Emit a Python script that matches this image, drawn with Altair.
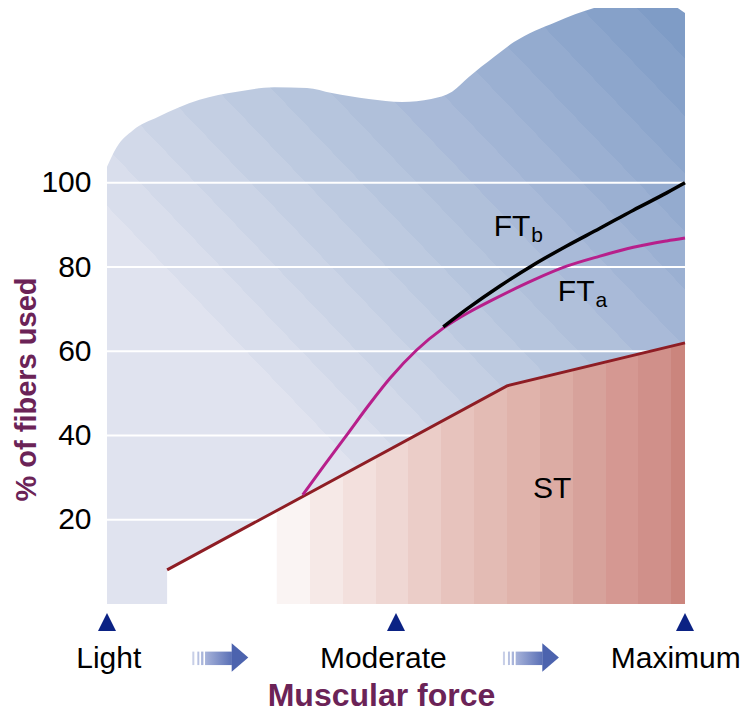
import altair as alt
import pandas as pd

# ---------------- data ----------------
# upper boundary of the shaded "available fibers" region
force_top = [0, 1.7, 4.5, 8.8, 16.0, 22.5, 28.9, 34.6, 38.9, 45.3, 51.1, 56.1,
             59.7, 62.6, 67.0, 70.4, 77.7, 84.8, 92.0, 97.1, 100]
top_pct = [103.8, 108.5, 112.5, 115.6, 119.7, 121.6, 122.7, 122.5, 121.3, 119.9,
           119.2, 119.9, 121.6, 125.1, 129.9, 133.4, 138.2, 141.7, 143.2, 142.5, 140.3]

# ST recruitment (slow-twitch)
st_force = [10.4, 29.4, 69.2, 100]
st_pct = [8.1, 22.2, 51.8, 62.0]

# FTa recruitment
fta_force = [33.86, 37.42, 41.47, 45.5, 48.96, 53.58, 58.18, 62.8, 66.26, 73.75,
             79.53, 85.29, 91.06, 96.83, 100]
fta_pct = [25.9, 32.6, 40.1, 47.6, 53.6, 60.3, 65.5, 69.4, 71.9, 76.9,
           80.2, 82.6, 84.7, 86.2, 86.9]

# FTb recruitment
ftb_force = [58.18, 62.23, 68.0, 73.75, 79.53, 85.29, 91.06, 96.83, 100]
ftb_pct = [65.8, 70.0, 75.5, 80.5, 85.0, 89.2, 93.5, 97.6, 100.0]

grid_pct = [20, 40, 60, 80, 100]

force_levels = ["Light", "Moderate", "Maximum"]
level_force = [0, 50, 100]
level_label_force = [0.3, 47.8, 98.4]

curve_names = ["FT", "FT", "ST"]
name_force = [66.9, 78.0, 73.7]
name_pct = [87.4, 72.0, 25.1]
curve_subs = ["b", "a"]
sub_force = [73.4, 84.5]
sub_pct = [86.0, 70.4]

# ---------------- styling ----------------
FONT = "Liberation Sans"
PURPLE = "#6b2357"
NAVY = "#0b2284"

xs = alt.Scale(domain=[0, 100], nice=False, zero=False)
ys = alt.Scale(domain=[0, 141.5], nice=False, zero=False)


def hexc(rgb):
    return "#%02x%02x%02x" % tuple(int(round(v)) for v in rgb)


# diagonal banded blue gradient
b0 = (224, 227, 239)
b1 = (127, 156, 198)
nb = 14
start = 0.33
w = (1 - start) / nb
blue_stops = [alt.GradientStop(offset=0, color=hexc(b0)),
              alt.GradientStop(offset=start, color=hexc(b0))]
for i in range(1, nb + 1):
    t = i / nb
    c = hexc([b0[k] + (b1[k] - b0[k]) * t for k in range(3)])
    blue_stops.append(alt.GradientStop(offset=start + (i - 1) * w + 0.0001, color=c))
    blue_stops.append(alt.GradientStop(offset=min(1, start + i * w), color=c))
blue_grad = alt.Gradient(gradient="linear", stops=blue_stops, x1=0, y1=1, x2=1, y2=0)

# vertical banded pink gradient
pink_cols = ["#faf4f3", "#f6e9e7", "#f3e0dd", "#efd7d3", "#ebcdc8", "#e7c3bd",
             "#e3bbb4", "#e0b3ab", "#dcaca4", "#d7a29b", "#d59892", "#d0908a", "#cb857d"]
pw = 32.7 / 406.1
pink_stops = []
for i, c in enumerate(pink_cols):
    a = min(1, i * pw + (0.0001 if i else 0))
    b = min(1, (i + 1) * pw)
    if i == len(pink_cols) - 1:
        b = 1
    pink_stops.append(alt.GradientStop(offset=a, color=c))
    pink_stops.append(alt.GradientStop(offset=b, color=c))
pink_grad = alt.Gradient(gradient="linear", stops=pink_stops, x1=0, y1=0, x2=1, y2=0)

# ---------------- frames ----------------
df_top = pd.DataFrame({"force": force_top, "pct": top_pct})
df_st = pd.DataFrame({"force": st_force, "pct": st_pct})
df_fta = pd.DataFrame({"force": fta_force, "pct": fta_pct})
df_ftb = pd.DataFrame({"force": ftb_force, "pct": ftb_pct})
df_grid = pd.DataFrame({"pct": grid_pct})
df_levels = pd.DataFrame({"force": level_force, "pct": [-4.27] * 3})
df_level_txt = pd.DataFrame({"force": level_label_force, "label": force_levels, "pct": [-15.2] * 3})
df_names = pd.DataFrame({"force": name_force, "pct": name_pct, "label": curve_names})
df_subs = pd.DataFrame({"force": sub_force, "pct": sub_pct, "label": curve_subs})

y_axis = alt.Axis(values=grid_pct, title="% of fibers used", titleFontSize=29,
                  titleFontWeight="bold", titleColor=PURPLE, titleFont=FONT,
                  labelFont=FONT, labelFontSize=30, labelColor="black",
                  ticks=False, domain=False, grid=False, labelPadding=16,
                  titleX=-72, titleY=381, titleBaseline="alphabetic",
                  titleAlign="center", titleAngle=270)
x_axis = alt.Axis(labels=False, ticks=False, domain=False, grid=False,
                  title="Muscular force", titleFontSize=32, titleFontWeight="bold",
                  titleColor=PURPLE, titleFont=FONT, titleX=274, titleY=101,
                  titleBaseline="alphabetic", titleAlign="center")


def X(field):
    return alt.X(field, scale=xs, axis=x_axis)


def Y(field):
    return alt.Y(field, scale=ys, axis=y_axis)


blue = alt.Chart(df_top).mark_area(interpolate="monotone", fill=blue_grad, clip=True).encode(
    x=X("force:Q"), y=Y("pct:Q"), y2=alt.Y2Datum(0),
)

grid = alt.Chart(df_grid).mark_rule(color="white", strokeWidth=2).encode(
    y=Y("pct:Q"),
    x=alt.XDatum(0, scale=xs, axis=x_axis),
    x2=alt.X2Datum(100),
)

white = alt.Chart(df_st.iloc[:2]).mark_area(color="white", opacity=1).encode(
    x=X("force:Q"), y=Y("pct:Q"), y2=alt.Y2Datum(0),
)

pink = alt.Chart(df_st.iloc[1:]).mark_area(fill=pink_grad).encode(
    x=X("force:Q"), y=Y("pct:Q"), y2=alt.Y2Datum(0),
)

st_line = alt.Chart(df_st).mark_line(color="#8e1d24", strokeWidth=3).encode(
    x=X("force:Q"), y=Y("pct:Q"),
)
fta_line = alt.Chart(df_fta).mark_line(color="#b71f8b", strokeWidth=3, interpolate="monotone").encode(
    x=X("force:Q"), y=Y("pct:Q"),
)
ftb_line = alt.Chart(df_ftb).mark_line(color="black", strokeWidth=3.5, interpolate="monotone").encode(
    x=X("force:Q"), y=Y("pct:Q"),
)

names = alt.Chart(df_names).mark_text(font=FONT, fontSize=30, align="left",
                                      baseline="alphabetic", color="black").encode(
    x=X("force:Q"), y=Y("pct:Q"), text="label:N",
)
subs = alt.Chart(df_subs).mark_text(font=FONT, fontSize=21, align="left",
                                    baseline="alphabetic", color="black").encode(
    x=X("force:Q"), y=Y("pct:Q"), text="label:N",
)

tri = alt.Chart(df_levels).mark_point(shape="M 0 -1 L 1 1 L -1 1 Z", filled=True, size=324,
                                      color=NAVY, opacity=1, strokeWidth=0).encode(
    x=X("force:Q"), y=Y("pct:Q"),
)
level_txt = alt.Chart(df_level_txt).mark_text(font=FONT, fontSize=30, align="center",
                                              baseline="alphabetic", color="black").encode(
    x=X("force:Q"), y=Y("pct:Q"), text="label:N",
)

# decorative arrows between the force labels
arrow_start = [14.76, 68.5]
stripe_rows, shaft_rows, head_rows = [], [], []
stripe_off = [(0, 0.35, "#c8cfe7"), (0.87, 1.21, "#b7c1e1"), (1.52, 1.92, "#a9b5db")]
for a0 in arrow_start:
    for s0, s1, c in stripe_off:
        stripe_rows.append({"x": a0 + s0, "x2": a0 + s1, "c": c})
    shaft_rows.append({"x": a0 + 2.2, "x2": a0 + 6.85})
    head_rows.append({"x": a0 + 8.25})
df_stripes = pd.DataFrame(stripe_rows)
df_shaft = pd.DataFrame(shaft_rows)
df_head = pd.DataFrame(head_rows)

stripes = alt.Chart(df_stripes).mark_rect().encode(
    x=X("x:Q"), x2="x2:Q",
    y=alt.YDatum(-11.3, scale=ys, axis=y_axis), y2=alt.Y2Datum(-14.5),
    color=alt.Color("c:N", scale=None),
)
shaft_grad = alt.Gradient(gradient="linear", x1=0, y1=0, x2=1, y2=0,
                          stops=[alt.GradientStop(offset=0, color="#a7b3da"),
                                 alt.GradientStop(offset=1, color="#5a70b6")])
shaft = alt.Chart(df_shaft).mark_rect(fill=shaft_grad).encode(
    x=X("x:Q"), x2="x2:Q",
    y=alt.YDatum(-11.3, scale=ys, axis=y_axis), y2=alt.Y2Datum(-14.5),
)
head = alt.Chart(df_head).mark_point(shape="M -0.585 -1 L 0.585 0 L -0.585 1 Z", filled=True,
                                     size=806, color="#4c63ae", opacity=1, strokeWidth=0).encode(
    x=X("x:Q"),
    y=alt.YDatum(-12.7, scale=ys, axis=y_axis),
)

chart = alt.layer(
    blue, grid, white, pink, st_line, fta_line, ftb_line, names, subs,
    tri, level_txt, stripes, shaft, head,
).properties(
    width=578, height=596,
    autosize=alt.AutoSizeParams(type="none"),
    padding={"left": 99, "top": 0, "right": 56, "bottom": 108},
    background="white",
).configure_view(stroke=None)

chart.save("out.html", embed_options={"renderer": "svg", "actions": False})
